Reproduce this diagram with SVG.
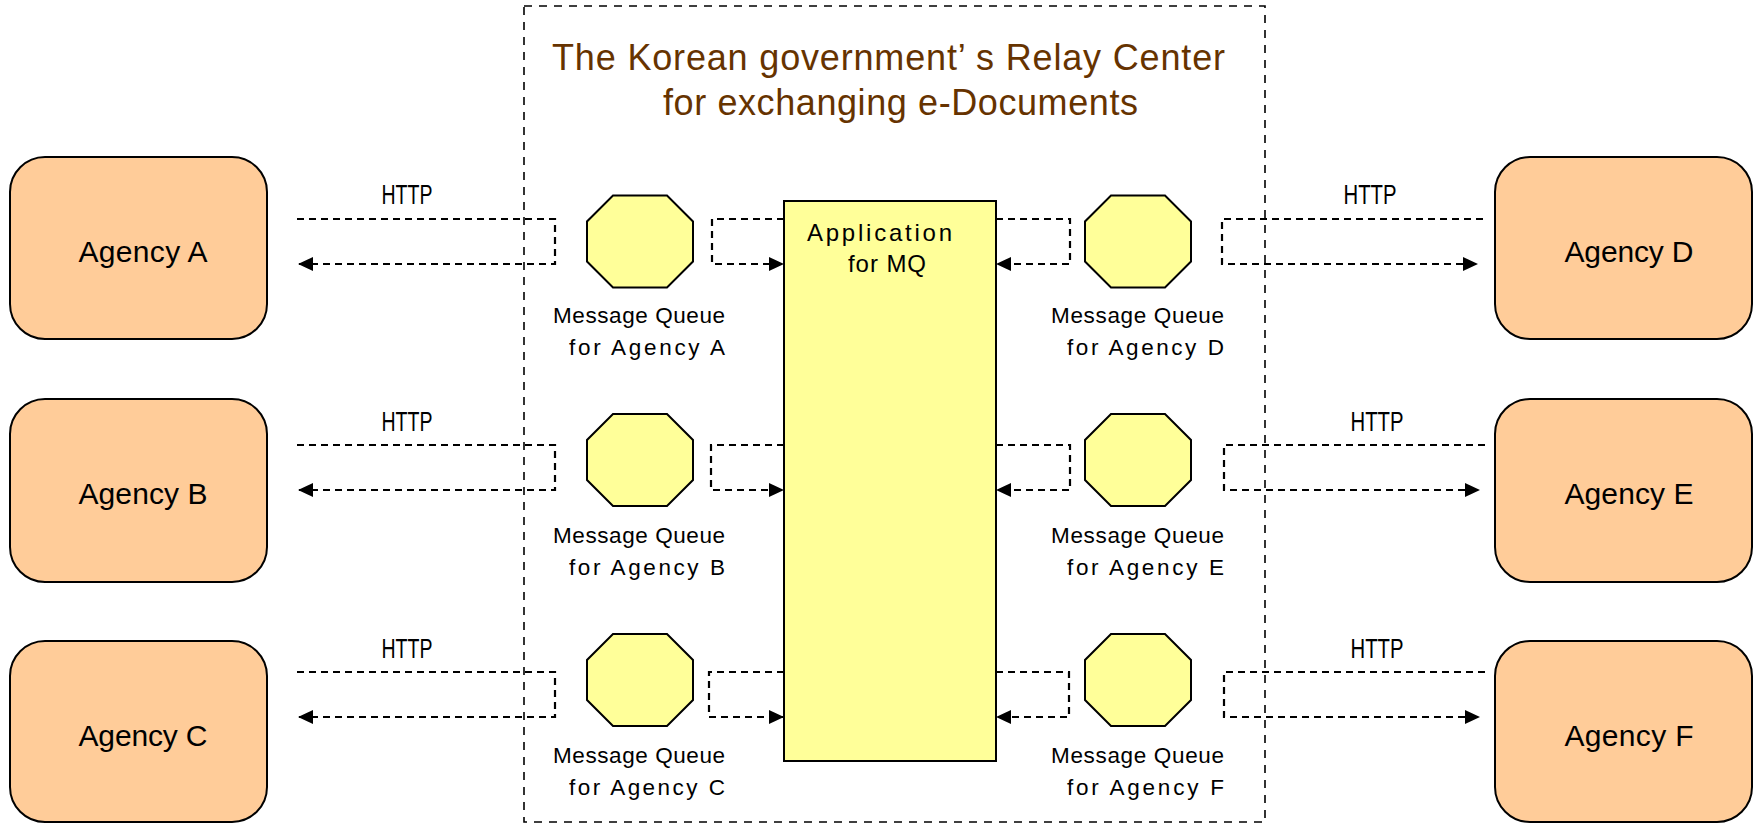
<svg xmlns="http://www.w3.org/2000/svg" width="1755" height="824" viewBox="0 0 1755 824">
<style>
.agency{fill:#FFCC99;stroke:#000;stroke-width:2}
.queue{fill:#FFFF99;stroke:#000;stroke-width:2}
.app{fill:#FFFF99;stroke:#000;stroke-width:2}
.frame{fill:none;stroke:#000;stroke-width:1.6;stroke-dasharray:8 7}
.conn{fill:none;stroke:#000;stroke-width:2.2;stroke-dasharray:7 5}
text{font-family:"Liberation Sans",Arial,sans-serif;fill:#000}
.title{font-size:36px;fill:#663300}
.aglabel{font-size:30px;text-anchor:middle}
.mq{font-size:22.5px;text-anchor:end}
.http{font-size:27px;text-anchor:middle}
.apptext{font-size:24px}
</style>
<defs>
<marker id="arr" markerUnits="userSpaceOnUse" markerWidth="16" markerHeight="16" refX="15" refY="7" orient="auto">
<path d="M0,0 L15,7 L0,14 Z" fill="#000"/>
</marker>
<polygon id="oct" points="-27,-46 27,-46 53,-20 53,20 27,46 -27,46 -53,20 -53,-20"/>
</defs>

<rect id="relay-center" class="frame" x="524" y="6" width="741" height="816"/>
<g id="title">
<text class="title" x="552" y="70" textLength="673" lengthAdjust="spacing">The Korean government’ s Relay Center</text>
<text class="title" x="663" y="115" textLength="475" lengthAdjust="spacing">for exchanging e-Documents</text>
</g>

<g id="app-mq">
<rect class="app" x="784" y="201" width="212" height="560"/>
<text class="apptext" x="807" y="241" textLength="145" lengthAdjust="spacing">Application</text>
<text class="apptext" x="848" y="272" textLength="78" lengthAdjust="spacing">for MQ</text>
</g>

<g id="agency-a">
<rect class="agency" x="10" y="157" width="257" height="182" rx="35" ry="35"/>
<text class="aglabel" x="143" y="262" textLength="129" lengthAdjust="spacing">Agency A</text>
</g>
<g id="agency-b">
<rect class="agency" x="10" y="399" width="257" height="183" rx="35" ry="35"/>
<text class="aglabel" x="143" y="504" textLength="129" lengthAdjust="spacing">Agency B</text>
</g>
<g id="agency-c">
<rect class="agency" x="10" y="641" width="257" height="181" rx="35" ry="35"/>
<text class="aglabel" x="143" y="746" textLength="129" lengthAdjust="spacing">Agency C</text>
</g>
<g id="agency-d">
<rect class="agency" x="1495" y="157" width="257" height="182" rx="35" ry="35"/>
<text class="aglabel" x="1629" y="262" textLength="129" lengthAdjust="spacing">Agency D</text>
</g>
<g id="agency-e">
<rect class="agency" x="1495" y="399" width="257" height="183" rx="35" ry="35"/>
<text class="aglabel" x="1629" y="504" textLength="129" lengthAdjust="spacing">Agency E</text>
</g>
<g id="agency-f">
<rect class="agency" x="1495" y="641" width="257" height="181" rx="35" ry="35"/>
<text class="aglabel" x="1629" y="746" textLength="129" lengthAdjust="spacing">Agency F</text>
</g>

<g id="queue-a">
<use href="#oct" class="queue" transform="translate(640,241.5)"/>
<text class="mq" x="725" y="323" textLength="172" lengthAdjust="spacing">Message Queue</text>
<text class="mq" x="725" y="355" textLength="156" lengthAdjust="spacing">for Agency A</text>
</g>
<g id="queue-b">
<use href="#oct" class="queue" transform="translate(640,460)"/>
<text class="mq" x="725" y="543" textLength="172" lengthAdjust="spacing">Message Queue</text>
<text class="mq" x="725" y="575" textLength="156" lengthAdjust="spacing">for Agency B</text>
</g>
<g id="queue-c">
<use href="#oct" class="queue" transform="translate(640,680)"/>
<text class="mq" x="725" y="763" textLength="172" lengthAdjust="spacing">Message Queue</text>
<text class="mq" x="725" y="795" textLength="156" lengthAdjust="spacing">for Agency C</text>
</g>
<g id="queue-d">
<use href="#oct" class="queue" transform="translate(1138,241.5)"/>
<text class="mq" x="1224" y="323" textLength="173" lengthAdjust="spacing">Message Queue</text>
<text class="mq" x="1224" y="355" textLength="157" lengthAdjust="spacing">for Agency D</text>
</g>
<g id="queue-e">
<use href="#oct" class="queue" transform="translate(1138,460)"/>
<text class="mq" x="1224" y="543" textLength="173" lengthAdjust="spacing">Message Queue</text>
<text class="mq" x="1224" y="575" textLength="157" lengthAdjust="spacing">for Agency E</text>
</g>
<g id="queue-f">
<use href="#oct" class="queue" transform="translate(1138,680)"/>
<text class="mq" x="1224" y="763" textLength="173" lengthAdjust="spacing">Message Queue</text>
<text class="mq" x="1224" y="795" textLength="157" lengthAdjust="spacing">for Agency F</text>
</g>

<g id="connectors">
<path class="conn" d="M297,219 H555 V264 H298" marker-end="url(#arr)"/>
<path class="conn" d="M784,219 H712 V264 H784" marker-end="url(#arr)"/>
<path class="conn" d="M996,219 H1070 V264 H996" marker-end="url(#arr)"/>
<path class="conn" d="M1483,219 H1222 V264 H1478" marker-end="url(#arr)"/>

<path class="conn" d="M297,445 H555 V490 H298" marker-end="url(#arr)"/>
<path class="conn" d="M784,445 H711 V490 H784" marker-end="url(#arr)"/>
<path class="conn" d="M996,445 H1070 V490 H996" marker-end="url(#arr)"/>
<path class="conn" d="M1485,445 H1224 V490 H1480" marker-end="url(#arr)"/>

<path class="conn" d="M297,672 H555 V717 H298" marker-end="url(#arr)"/>
<path class="conn" d="M784,672 H709 V717 H784" marker-end="url(#arr)"/>
<path class="conn" d="M996,672 H1069 V717 H996" marker-end="url(#arr)"/>
<path class="conn" d="M1485,672 H1224 V717 H1480" marker-end="url(#arr)"/>

<text class="http" x="407" y="204" textLength="51" lengthAdjust="spacingAndGlyphs">HTTP</text>
<text class="http" x="407" y="431" textLength="51" lengthAdjust="spacingAndGlyphs">HTTP</text>
<text class="http" x="407" y="658" textLength="51" lengthAdjust="spacingAndGlyphs">HTTP</text>
<text class="http" x="1370" y="204" textLength="53" lengthAdjust="spacingAndGlyphs">HTTP</text>
<text class="http" x="1377" y="431" textLength="53" lengthAdjust="spacingAndGlyphs">HTTP</text>
<text class="http" x="1377" y="658" textLength="53" lengthAdjust="spacingAndGlyphs">HTTP</text>
</g>
</svg>
